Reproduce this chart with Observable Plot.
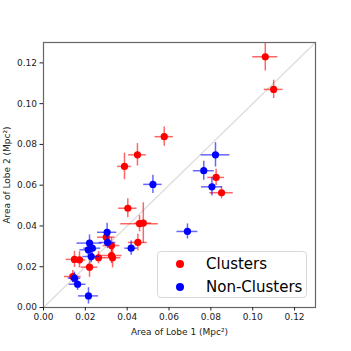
<!DOCTYPE html>
<html>
<head>
<meta charset="utf-8">
<script src="https://cdn.jsdelivr.net/npm/d3@7"></script>
<script src="https://cdn.jsdelivr.net/npm/@observablehq/plot@0.6"></script>
<style>
  html, body { margin: 0; padding: 0; background: #fff; }
  #wrap { position: relative; width: 351px; height: 351px; font-family: "DejaVu Sans", sans-serif; }
  #legend { position: absolute; left: 157px; top: 251px; width: 150px; height: 47px;
    border: 1px solid #d8d8d8; border-radius: 4px; background: rgba(255,255,255,0.85); box-sizing: border-box; }
  .item { position: absolute; left: 0; height: 20px; font-size: 15px; color: #000; white-space: nowrap; }
  .item .dot { position: absolute; left: 18px; top: 6px; width: 8px; height: 8px; border-radius: 50%; }
  .item .lab { position: absolute; left: 48px; top: 0px; line-height: 20px; }
</style>
</head>
<body>
<div id="wrap"></div>
<script>
// Clusters
const clusterX    = [0.106, 0.110, 0.0577, 0.0449, 0.0387, 0.0825, 0.0851, 0.0403, 0.0459, 0.0477, 0.0451, 0.030, 0.0325, 0.0325, 0.033, 0.0263, 0.0172, 0.0148, 0.022, 0.014];
const clusterY    = [0.123, 0.107, 0.0838, 0.0749, 0.0692, 0.0638, 0.0563, 0.0487, 0.0411, 0.0414, 0.0319, 0.0345, 0.0304, 0.0255, 0.0244, 0.0244, 0.0234, 0.0236, 0.0198, 0.0152];
const clusterXErr = [0.006, 0.0045, 0.0044, 0.0042, 0.0033, 0.004, 0.0056, 0.0044, 0.009, 0.004, 0.0045, 0.0042, 0.004, 0.005, 0.004, 0.003, 0.003, 0.004, 0.004, 0.004];
const clusterYErr = [0.007, 0.0045, 0.0047, 0.0055, 0.0065, 0.004, 0.003, 0.0047, 0.004, 0.010, 0.004, 0.003, 0.004, 0.004, 0.005, 0.003, 0.004, 0.004, 0.005, 0.003];
// Non-Clusters
const nonX    = [0.0523, 0.0822, 0.0766, 0.0805, 0.0688, 0.0304, 0.0306, 0.022, 0.0419, 0.0233, 0.0214, 0.0228, 0.0148, 0.0163, 0.0215];
const nonY    = [0.0604, 0.0749, 0.0671, 0.0592, 0.0373, 0.0369, 0.0319, 0.0316, 0.0291, 0.0291, 0.0283, 0.025, 0.0144, 0.0114, 0.0057];
const nonXErr = [0.0044, 0.0069, 0.005, 0.005, 0.005, 0.0046, 0.004, 0.006, 0.003, 0.004, 0.004, 0.004, 0.003, 0.004, 0.0048];
const nonYErr = [0.0045, 0.006, 0.0047, 0.0045, 0.0037, 0.0044, 0.003, 0.004, 0.0035, 0.003, 0.003, 0.003, 0.003, 0.003, 0.004];

const seriesNames = ["Clusters", "Non-Clusters"];
const seriesColors = ["#ff0000", "#0000ff"];
const axisDomain = [0, 0.13];
const tickValues = [0, 0.02, 0.04, 0.06, 0.08, 0.10, 0.12];
const diagonal = [[0, 0], [0.13, 0.13]];

const mk = (xs, ys, xe, ye, s) => xs.map((x, i) => ({x, y: ys[i], xe: xe[i], ye: ye[i], s}));
const clusters = mk(clusterX, clusterY, clusterXErr, clusterYErr, seriesNames[0]);
const nonClusters = mk(nonX, nonY, nonXErr, nonYErr, seriesNames[1]);

function series(data, color) {
  return [
    Plot.ruleY(data, {y: "y", x1: d => d.x - d.xe, x2: d => d.x + d.xe, stroke: color, strokeOpacity: 0.6, strokeWidth: 1.5}),
    Plot.ruleX(data, {x: "x", y1: d => d.y - d.ye, y2: d => d.y + d.ye, stroke: color, strokeOpacity: 0.6, strokeWidth: 1.5}),
    Plot.dot(data, {x: "x", y: "y", r: 3.6, fill: color, stroke: "none"})
  ];
}

const chart = Plot.plot({
  width: 351, height: 351,
  marginLeft: 43, marginRight: 36, marginTop: 42, marginBottom: 44,
  style: {fontFamily: "DejaVu Sans, sans-serif", fontSize: "9px", color: "#222", background: "#fff"},
  x: {domain: axisDomain},
  y: {domain: axisDomain},
  marks: [
    Plot.line(diagonal, {x: d => d[0], y: d => d[1], stroke: "#dedede", strokeWidth: 1.3}),
    ...series(clusters, seriesColors[0]),
    ...series(nonClusters, seriesColors[1]),
    Plot.frame({stroke: "#666", strokeWidth: 1.2}),
    Plot.axisX({ticks: tickValues, tickFormat: d => d.toFixed(2), tickSize: 3.5, tickPadding: 3,
      label: "Area of Lobe 1 (Mpc²)", labelAnchor: "center", labelArrow: "none", labelOffset: 27}),
    Plot.axisY({ticks: tickValues, tickFormat: d => d.toFixed(2), tickSize: 3.5, tickPadding: 3,
      label: "Area of Lobe 2 (Mpc²)", labelAnchor: "center", labelArrow: "none", labelOffset: 40})
  ]
});

const wrap = document.getElementById("wrap");
wrap.appendChild(chart);

const legend = document.createElement("div");
legend.id = "legend";
seriesNames.forEach((name, i) => {
  const item = document.createElement("div");
  item.className = "item";
  item.style.top = (2 + i * 23) + "px";
  const dot = document.createElement("span");
  dot.className = "dot";
  dot.style.background = seriesColors[i];
  const lab = document.createElement("span");
  lab.className = "lab";
  lab.textContent = name;
  item.appendChild(dot); item.appendChild(lab);
  legend.appendChild(item);
});
wrap.appendChild(legend);
</script>
</body>
</html>
